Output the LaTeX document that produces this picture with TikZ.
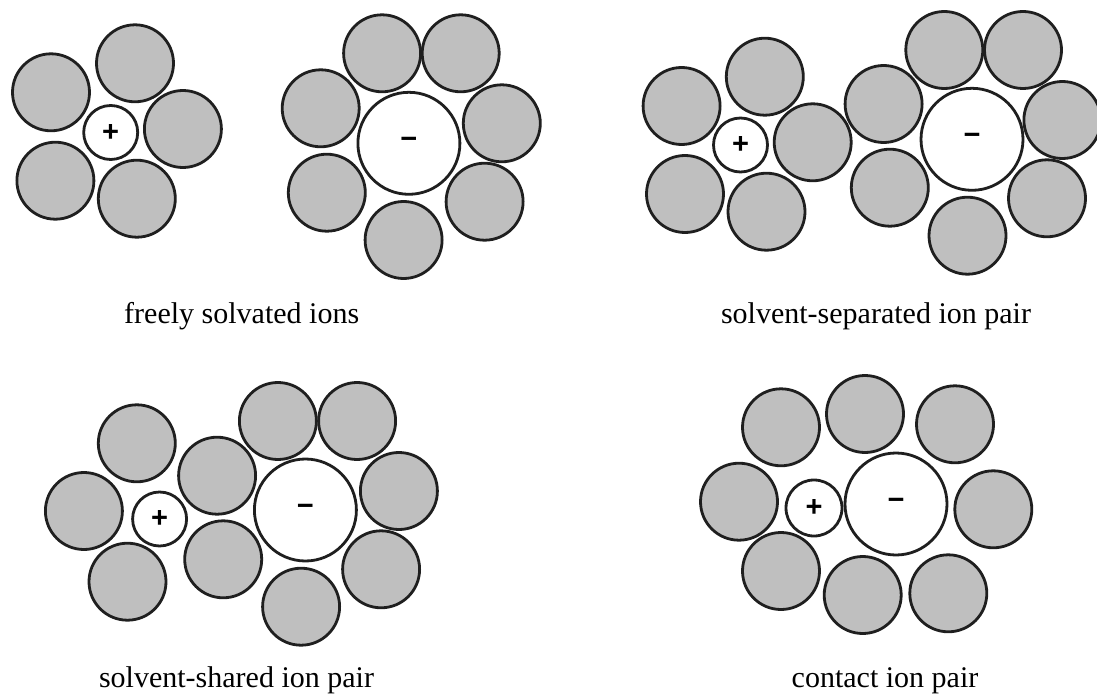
\documentclass[tikz,border=0pt]{standalone}
\usepackage{fontspec}
\setmainfont{Liberation Serif}
\newfontfamily\signfont{Liberation Sans}
\begin{document}
\begin{tikzpicture}[x=1pt,y=-1pt]
\tikzset{
  ring/.style={circle, draw=black!88, line width=2.8pt, inner sep=0pt},
  solv/.style={ring, fill=gray!50, minimum size=77pt},
  cation/.style={ring, fill=white, minimum size=54pt, font=\signfont\bfseries\fontsize{29}{29}\selectfont},
  anion/.style={ring, fill=white, minimum size=102pt, font=\signfont\bfseries\fontsize{29}{29}\selectfont},
  caption/.style={anchor=base, inner sep=0pt, font=\fontsize{30}{36}\selectfont}
}
\useasboundingbox (0,0) rectangle (1097,695);
\clip (0,0) rectangle (1097,695);

% --- freely solvated ions ---
\node[solv] (a1) at (51,92.3) {};
\node[solv] (a2) at (135,63.3) {};
\node[solv] (a3) at (182.9,129) {};
\node[solv] (a4) at (55.4,180.7) {};
\node[solv] (a5) at (136.8,198.7) {};
\node[cation] (acat) at (110.7,132.5) {+};
\node[solv] (b1) at (320.7,108.3) {};
\node[solv] (b2) at (382.1,53.3) {};
\node[solv] (b3) at (460.7,53.3) {};
\node[solv] (b4) at (501.8,123.3) {};
\node[solv] (b5) at (484.6,201.7) {};
\node[solv] (b6) at (403.6,240) {};
\node[solv] (b7) at (326.8,192.7) {};
\node[anion] (aan) at (408.9,143.3) {−};
\node[caption] (capa) at (241.7,323) {freely solvated ions};

% --- solvent-separated ion pair ---
\node[solv] (c1) at (681.6,106) {};
\node[solv] (c2) at (764.8,76.7) {};
\node[solv] (c3) at (812.7,142.3) {};
\node[solv] (c4) at (685,194) {};
\node[solv] (c5) at (766.5,211.7) {};
\node[cation] (bcat) at (740.5,145) {+};
\node[solv] (d1) at (883.6,104) {};
\node[solv] (d2) at (944.3,50) {};
\node[solv] (d3) at (1023,50) {};
\node[solv] (d4) at (1062.4,120) {};
\node[solv] (d5) at (1047,198.3) {};
\node[solv] (d6) at (967.5,235.7) {};
\node[solv] (d7) at (889.8,187.7) {};
\node[anion] (ban) at (972,139.3) {−};
\node[caption] (capb) at (876,323) {solvent-separated ion pair};

% --- solvent-shared ion pair ---
\node[solv] (e1) at (136.8,443.3) {};
\node[solv] (e2) at (83.9,511) {};
\node[solv] (e3) at (127.5,581.7) {};
\node[solv] (e4) at (217.1,475.7) {};
\node[solv] (e5) at (223.2,559.3) {};
\node[cation] (ccat) at (159.6,519) {+};
\node[solv] (f1) at (277.9,421) {};
\node[solv] (f2) at (357.1,421) {};
\node[solv] (f3) at (398.9,491) {};
\node[solv] (f4) at (381.1,569.3) {};
\node[solv] (f5) at (301.1,606.7) {};
\node[anion] (can) at (305.4,510) {−};
\node[caption] (capc) at (236.5,687) {solvent-shared ion pair};

% --- contact ion pair ---
\node[solv] (g1) at (781,427.3) {};
\node[solv] (g2) at (865,414) {};
\node[solv] (g3) at (955,424.3) {};
\node[solv] (g4) at (739,501.7) {};
\node[solv] (g5) at (993.3,509.3) {};
\node[solv] (g6) at (781,571) {};
\node[solv] (g7) at (862.7,595) {};
\node[solv] (g8) at (948.3,593.3) {};
\node[cation, minimum size=56pt] (dcat) at (814,508) {+};
\node[anion] (dan) at (896,504) {−};
\node[caption] (capd) at (885,687) {contact ion pair};
\end{tikzpicture}
\end{document}
